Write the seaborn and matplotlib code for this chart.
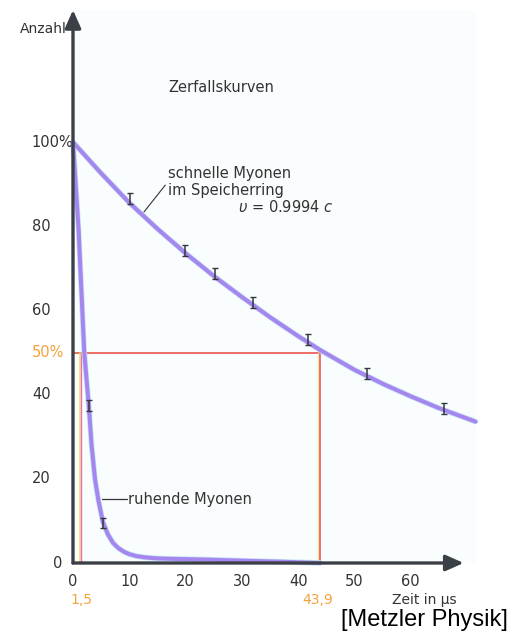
import matplotlib
matplotlib.use("Agg")
import matplotlib.pyplot as plt
import matplotlib.transforms as mtransforms
import seaborn as sns

# curve: fast muons in the storage ring
fast_t = [0, 5, 10, 15, 20, 25, 30, 35, 40, 43.9, 50, 55, 60, 65, 71.5]
fast_n = [100, 92.6, 85.6, 79.4, 73.6, 68.2, 63.2, 58.4, 53.9, 50.6, 45.9, 42.6, 39.6, 36.8, 33.6]
# measured points (error bars) on the fast curve
fast_pt_t = [10.1, 19.9, 25.2, 32.0, 41.7, 52.2, 65.9]
fast_pt_n = [86.7, 74.3, 68.9, 62.0, 53.0, 45.1, 36.8]

# curve for muons at rest
slow_t = [0, 1.0, 2.0, 2.8, 3.3, 3.9, 4.5, 5.3, 6.2, 7.1, 8.0, 9.0, 10.0, 11.4, 13.0, 15.0,
          17.2, 24, 31.4, 37, 41.6, 43.9]
slow_n = [100, 79, 50, 37.5, 28, 20, 15, 9.8, 6.8, 4.8, 3.6, 2.7, 2.1, 1.6, 1.3, 1.1,
          1.0, 0.8, 0.5, 0.3, 0.1, 0]
slow_pt_t = [2.8, 5.3]
slow_pt_n = [37.5, 9.5]

half_life_slow = 1.5
half_life_fast = 43.9
half_level = 50

x_ticks = [0, 10, 20, 30, 40, 50, 60]
y_ticks = [0, 20, 40, 50, 60, 80, 100]
y_labels = ["0", "20", "40", "50%", "60", "80", "100%"]

sns.set_style("white")
plt.rcParams["font.family"] = ["DejaVu Sans"]
plt.rcParams["mathtext.fontset"] = "dejavusans"

W, H = 532, 639
fig = plt.figure(figsize=(W / 100, H / 100), dpi=100)
ax = fig.add_axes([73 / W, 76 / H, 402.5 / W, 553 / H])
ax.set_facecolor("#fafdfe")
ax.set_xlim(0, 71.5)
ax.set_ylim(0, 131.4)
for s in ax.spines.values():
    s.set_visible(False)

axis_col = "#3b4047"
text_col = "#333333"
orange = "#f4a23a"
red = "#e8574a"
purple = "#a586ee"

# half-life guide lines (yellow shadow just left of the coloured line)
shift = mtransforms.ScaledTranslation(-1.8 / 100, 0, fig.dpi_scale_trans)
ax.plot([0, half_life_fast], [half_level, half_level], color=red, lw=1.2, zorder=2)
ax.plot([half_life_fast, half_life_fast], [half_level, 0], color="#fbe48a", lw=0.9, zorder=2,
        transform=ax.transData + shift)
ax.plot([half_life_fast, half_life_fast], [half_level, 0], color="#e84c50", lw=1.1, zorder=2)
ax.plot([half_life_slow, half_life_slow], [half_level, 0], color="#f8d860", lw=1.1, zorder=2,
        transform=ax.transData + shift)
ax.plot([half_life_slow, half_life_slow], [half_level, 0], color="#e070c0", lw=1.0, zorder=2)

# decay curves
for t, n in [(fast_t, fast_n), (slow_t, slow_n)]:
    sns.lineplot(x=t, y=n, ax=ax, sort=False, color="#c6e4f6", lw=4.0, zorder=3, clip_on=False)
    sns.lineplot(x=t, y=n, ax=ax, sort=False, color=purple, lw=2.9, zorder=4, clip_on=False)

ax.errorbar(fast_pt_t + slow_pt_t, fast_pt_n + slow_pt_n, yerr=1.3, fmt="none",
            ecolor="#35363c", elinewidth=1.1, capsize=2.2, capthick=1.0, zorder=5)

# axes with arrows
arrow = dict(arrowstyle="-|>,head_length=0.9,head_width=0.4", lw=2.4, color=axis_col,
             shrinkA=0, shrinkB=0, mutation_scale=12)
ax.annotate("", xy=(0, 131.4), xytext=(0, 0), arrowprops=arrow, annotation_clip=False, zorder=6)
ax.annotate("", xy=(69.4, 0), xytext=(0, 0), arrowprops=arrow, annotation_clip=False, zorder=6)

# ticks
ax.set_xticks(x_ticks, [str(v) for v in x_ticks])
ax.set_yticks([])
ax.tick_params(axis="x", length=0, pad=8, labelsize=10.5, labelcolor=text_col)
for y, lab in zip(y_ticks, y_labels):
    col = orange if lab == "50%" else text_col
    if lab == "0":
        ax.text(-1.95, y, lab, ha="right", va="center", fontsize=10.5, color=col, clip_on=False)
    else:
        ax.text(-7.3, y, lab, ha="left", va="center", fontsize=10.5, color=col, clip_on=False)

ax.text(half_life_slow, -8.8, "1,5", ha="center", va="center", fontsize=10, color=orange)
ax.text(half_life_fast - 0.4, -8.8, "43,9", ha="center", va="center", fontsize=10, color=orange)
ax.text(56.7, -8.8, "Zeit in µs", ha="left", va="center", fontsize=10, color=text_col)

ax.text(-1.1, 127, "Anzahl", ha="right", va="center", fontsize=10, color=text_col)
ax.text(16.9, 113, "Zerfallskurven", ha="left", va="center", fontsize=10.5, color=text_col)

ax.text(16.9, 90.6, "schnelle Myonen\nim Speicherring", ha="left", va="center",
        fontsize=10.5, color=text_col, linespacing=1.15)
ax.text(29.3, 84.6, r"$\upsilon$ = 0.9994 $c$", ha="left", va="center", fontsize=10.5, color=text_col)
ax.plot([16.4, 12.6], [89.8, 83.4], color=text_col, lw=0.8, zorder=5)

ax.plot([5.15, 9.6], [15.2, 15.2], color=text_col, lw=0.9, zorder=5)
ax.text(9.8, 15.2, "ruhende Myonen", ha="left", va="center", fontsize=10.5, color=text_col)

fig.text(508 / W, 1 - 620 / H, "[Metzler Physik]", ha="right", va="center",
         fontsize=17, color="black", family=["Liberation Sans", "DejaVu Sans"])

fig.savefig("out.png", dpi=100, facecolor="white")
